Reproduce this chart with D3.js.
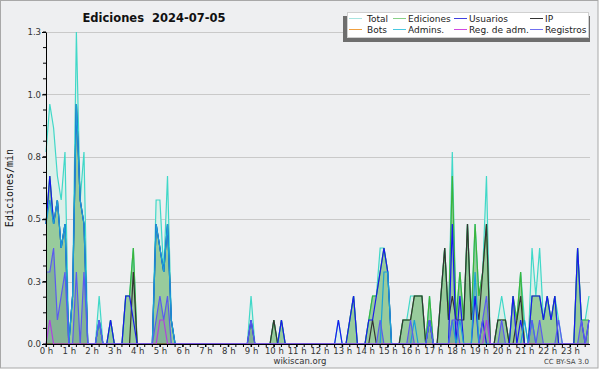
<!DOCTYPE html>
<html>
<head>
<meta charset="utf-8">
<script src="https://cdn.jsdelivr.net/npm/d3@7/dist/d3.min.js"></script>
<style>
  body { margin: 0; background: #fff; }
  svg { display: block; font-family: "DejaVu Sans", sans-serif; }
</style>
</head>
<body>
<div id="chart"></div>
<script>
"use strict"

// 144 points, 10 minutes each (edits per minute)
const total = [
    0.8, 1.0, 0.9, 0.7, 0.6, 0.8,  0, 0.2, 1.3, 0.6, 0.8, 0,  0, 0, 0.2, 0, 0, 0.1,  0, 0, 0, 0.2, 0.2, 0.4,
    0, 0, 0, 0, 0, 0.6,  0.6, 0.3, 0.7, 0.1, 0, 0,  0, 0, 0, 0, 0, 0,  0, 0, 0, 0, 0, 0,
    0, 0, 0, 0, 0, 0,  0.2, 0, 0, 0, 0, 0,  0.1, 0, 0.1, 0, 0, 0,  0, 0, 0, 0, 0, 0,
    0, 0, 0, 0, 0, 0.1,  0, 0, 0.1, 0.2, 0, 0,  0, 0.1, 0.2, 0.2, 0.4, 0.4,  0.3, 0, 0, 0, 0.1, 0.1,
    0.2, 0.2, 0.2, 0.2, 0, 0.2,  0, 0, 0.2, 0.4, 0.1, 0.8,  0.1, 0.3, 0.1, 0.5, 0.1, 0.5,  0.2, 0.3, 0.7, 0, 0, 0.1,
    0.2, 0.1, 0, 0.2, 0.1, 0.3,  0.1, 0, 0.4, 0.2, 0.4, 0.1,  0.2, 0.1, 0.2, 0.1, 0, 0,  0, 0, 0.4, 0.1, 0.1, 0.2
];
const ediciones = [
    0.5, 0.7, 0.5, 0.6, 0.4, 0.5,  0, 0.2, 1.0, 0.6, 0.5, 0,  0, 0, 0.1, 0, 0, 0.1,  0, 0, 0, 0.2, 0.2, 0.4,
    0, 0, 0, 0, 0, 0.5,  0.4, 0.3, 0.5, 0.1, 0, 0,  0, 0, 0, 0, 0, 0,  0, 0, 0, 0, 0, 0,
    0, 0, 0, 0, 0, 0,  0.1, 0, 0, 0, 0, 0,  0.1, 0, 0.1, 0, 0, 0,  0, 0, 0, 0, 0, 0,
    0, 0, 0, 0, 0, 0,  0, 0, 0.1, 0.2, 0, 0,  0, 0.1, 0.2, 0.2, 0.3, 0.4,  0.3, 0, 0, 0, 0.1, 0.1,
    0.1, 0.2, 0.2, 0.2, 0, 0.2,  0, 0, 0.2, 0.4, 0.1, 0.7,  0.1, 0.3, 0.1, 0.5, 0.1, 0.5,  0.2, 0.3, 0.5, 0, 0, 0.1,
    0.1, 0.1, 0, 0.2, 0.1, 0.3,  0, 0, 0.2, 0.2, 0.2, 0.1,  0.2, 0.1, 0.2, 0, 0, 0,  0, 0, 0.4, 0.1, 0.1, 0.1
];
const usuarios = [
    0.5, 0.7, 0.5, 0.6, 0.4, 0.5,  0, 0.2, 1.0, 0.6, 0.5, 0,  0, 0, 0.1, 0, 0, 0.1,  0, 0, 0, 0.2, 0.2, 0.1,
    0, 0, 0, 0, 0, 0.5,  0.4, 0.3, 0.5, 0.1, 0, 0,  0, 0, 0, 0, 0, 0,  0, 0, 0, 0, 0, 0,
    0, 0, 0, 0, 0, 0,  0.1, 0, 0, 0, 0, 0,  0, 0, 0.1, 0, 0, 0,  0, 0, 0, 0, 0, 0,
    0, 0, 0, 0, 0, 0.1,  0, 0, 0.1, 0.2, 0, 0,  0, 0.1, 0.1, 0.2, 0.3, 0.4,  0.3, 0, 0, 0, 0, 0,
    0, 0, 0, 0, 0, 0.1,  0, 0, 0, 0, 0, 0.5,  0, 0.2, 0, 0, 0, 0.2,  0, 0.1, 0, 0, 0, 0,
    0, 0, 0, 0.2, 0, 0.1,  0, 0, 0.2, 0.2, 0.2, 0.1,  0.2, 0.1, 0.2, 0, 0, 0,  0, 0, 0.4, 0.1, 0, 0.1
];
const ip = [
    0, 0, 0, 0, 0, 0,  0, 0, 0, 0, 0, 0,  0, 0, 0, 0, 0, 0,  0, 0, 0, 0, 0, 0.3,
    0, 0, 0, 0, 0, 0,  0, 0, 0, 0, 0, 0,  0, 0, 0, 0, 0, 0,  0, 0, 0, 0, 0, 0,
    0, 0, 0, 0, 0, 0,  0, 0, 0, 0, 0, 0,  0.1, 0, 0, 0, 0, 0,  0, 0, 0, 0, 0, 0,
    0, 0, 0, 0, 0, 0,  0, 0, 0, 0, 0, 0,  0, 0, 0.1, 0, 0, 0,  0, 0, 0, 0, 0.1, 0.1,
    0.1, 0.2, 0.2, 0.2, 0, 0.1,  0, 0, 0.2, 0.4, 0.1, 0.2,  0.1, 0.1, 0.1, 0.5, 0.1, 0.2,  0.1, 0.3, 0.5, 0, 0, 0.1,
    0.1, 0.1, 0, 0, 0.1, 0.2,  0, 0, 0, 0, 0, 0,  0, 0, 0, 0, 0, 0,  0, 0, 0, 0, 0, 0
];
const admins = [
    0.5, 0.6, 0.5, 0.6, 0.4, 0.5,  0, 0.2, 1.0, 0.6, 0.5, 0,  0, 0, 0.1, 0, 0, 0,  0, 0, 0, 0, 0, 0,
    0, 0, 0, 0, 0, 0.5,  0.4, 0.3, 0.5, 0.1, 0, 0,  0, 0, 0, 0, 0, 0,  0, 0, 0, 0, 0, 0,
    0, 0, 0, 0, 0, 0,  0, 0, 0, 0, 0, 0,  0, 0, 0, 0, 0, 0,  0, 0, 0, 0, 0, 0,
    0, 0, 0, 0, 0, 0,  0, 0, 0, 0, 0, 0,  0, 0, 0, 0, 0, 0.3,  0.3, 0, 0, 0, 0, 0,
    0, 0.1, 0, 0, 0, 0.1,  0, 0, 0, 0, 0, 0.1,  0, 0.1, 0, 0, 0, 0.3,  0, 0, 0, 0, 0, 0,
    0, 0, 0, 0, 0, 0,  0.1, 0, 0.1, 0, 0, 0,  0, 0, 0, 0, 0, 0,  0, 0, 0, 0, 0, 0
];
const registros = [
    0.3, 0.3, 0.4, 0.1, 0.2, 0.3,  0, 0, 0.3, 0, 0.3, 0,  0, 0, 0.1, 0, 0, 0,  0, 0, 0, 0, 0, 0,
    0, 0, 0, 0, 0, 0.1,  0.2, 0.1, 0.2, 0, 0, 0,  0, 0, 0, 0, 0, 0,  0, 0, 0, 0, 0, 0,
    0, 0, 0, 0, 0, 0,  0.1, 0, 0, 0, 0, 0,  0, 0, 0, 0, 0, 0,  0, 0, 0, 0, 0, 0,
    0, 0, 0, 0, 0, 0,  0, 0, 0, 0, 0, 0,  0, 0, 0, 0, 0.1, 0,  0, 0, 0, 0, 0, 0,
    0.1, 0, 0, 0, 0, 0.1,  0, 0, 0, 0, 0, 0.1,  0.1, 0, 0, 0, 0, 0,  0, 0.1, 0.2, 0, 0, 0,
    0.1, 0, 0, 0, 0, 0,  0, 0, 0.1, 0, 0.1, 0,  0, 0, 0, 0.1, 0, 0,  0, 0, 0, 0.1, 0, 0.1
];
const regAdm = [
    0, 0.1, 0, 0, 0, 0,  0, 0, 0, 0, 0, 0,  0, 0, 0, 0, 0, 0,  0, 0, 0, 0, 0, 0,
    0, 0, 0, 0, 0, 0,  0.1, 0.1, 0, 0, 0, 0,  0, 0, 0, 0, 0, 0,  0, 0, 0, 0, 0, 0,
    0, 0, 0, 0, 0, 0,  0, 0, 0, 0, 0, 0,  0, 0, 0, 0, 0, 0,  0, 0, 0, 0, 0, 0,
    0, 0, 0, 0, 0, 0,  0, 0, 0, 0, 0, 0,  0, 0, 0, 0, 0, 0,  0, 0, 0, 0, 0, 0,
    0, 0, 0, 0, 0, 0,  0, 0, 0, 0, 0, 0,  0, 0, 0, 0, 0, 0,  0, 0, 0.1, 0, 0, 0,
    0, 0, 0, 0, 0, 0,  0, 0, 0, 0, 0, 0,  0, 0, 0, 0, 0, 0,  0, 0, 0, 0, 0, 0
];
const bots = [
    0, 0, 0, 0, 0, 0,  0, 0, 0, 0, 0, 0,  0, 0, 0, 0, 0, 0,  0, 0, 0, 0, 0, 0,
    0, 0, 0, 0, 0, 0,  0, 0, 0, 0, 0, 0,  0, 0, 0, 0, 0, 0,  0, 0, 0, 0, 0, 0,
    0, 0, 0, 0, 0, 0,  0, 0, 0, 0, 0, 0,  0, 0, 0, 0, 0, 0,  0, 0, 0, 0, 0, 0,
    0, 0, 0, 0, 0, 0,  0, 0, 0, 0, 0, 0,  0, 0, 0, 0, 0, 0,  0, 0, 0, 0, 0, 0,
    0, 0, 0, 0, 0, 0,  0, 0, 0, 0, 0, 0,  0, 0, 0, 0, 0, 0,  0, 0, 0, 0, 0, 0,
    0, 0, 0, 0, 0, 0,  0, 0, 0, 0, 0, 0,  0, 0, 0, 0, 0, 0,  0, 0, 0, 0, 0, 0
];

const hourLabels = ["0 h", "1 h", "2 h", "3 h", "4 h", "5 h", "6 h", "7 h", "8 h", "9 h", "10 h", "11 h",
    "12 h", "13 h", "14 h", "15 h", "16 h", "17 h", "18 h", "19 h", "20 h", "21 h", "22 h", "23 h"];
const yTicks = [0, 0.26, 0.52, 0.78, 1.04, 1.3];
const yLabels = ["0.0", "0.3", "0.5", "0.8", "1.0", "1.3"];
const legendNames = ["Total", "Ediciones", "Usuarios", "IP", "Bots", "Admins.", "Reg. de adm.", "Registros"];


const width = 600,
    height = 370;
const plotLeft = 46,
    plotRight = 589,
    plotTop = 32,
    plotBottom = 344;

const svg = d3.select("#chart").append("svg")
    .attr("width", width)
    .attr("height", height);

svg.append("rect")
    .attr("x", 0.5).attr("y", 0.5)
    .attr("width", 597.5).attr("height", 367.5)
    .attr("fill", "#eeeff1")
    .attr("stroke", "#a8a8a8");

const scaleX = d3.scaleLinear().domain([0, 143]).range([plotLeft, plotRight]);
const scaleY = d3.scaleLinear().domain([0, 1.3]).range([plotBottom, plotTop]);

// grid
svg.append("g").selectAll("line")
    .data(yTicks.slice(1))
    .join("line")
    .attr("x1", plotLeft).attr("x2", plotRight + 1)
    .attr("y1", d => Math.round(scaleY(d)) + 0.5)
    .attr("y2", d => Math.round(scaleY(d)) + 0.5)
    .attr("stroke", "#c9c9c9");

// areas
const area = d3.area()
    .x((d, i) => scaleX(i))
    .y0(plotBottom)
    .y1(d => scaleY(d));
const line = d3.line()
    .x((d, i) => scaleX(i))
    .y(d => scaleY(d));

svg.append("path").attr("d", area(total)).attr("fill", "#dcefe9");
svg.append("path").attr("d", area(ediciones)).attr("fill", "#98cb9c");
svg.append("path").attr("d", area(registros)).attr("fill", "rgba(40,70,120,0.18)");

const series = [
    {values: bots, color: "#f0a030"},
    {values: total, color: "#40d8c8"},
    {values: ediciones, color: "#3cb43c"},
    {values: ip, color: "#333333"},
    {values: usuarios, color: "#1818f0"},
    {values: admins, color: "#1aa0d8"},
    {values: registros, color: "#5a5af0"},
    {values: regAdm, color: "#b040e0"}
];

series.forEach(s => {
    svg.append("path")
        .attr("d", line(s.values))
        .attr("fill", "none")
        .attr("stroke", s.color)
        .attr("stroke-width", 1.2);
});

// axes
const yAxis = d3.axisLeft(scaleY)
    .tickValues(yTicks)
    .tickFormat((d, i) => yLabels[i])
    .tickSize(4)
    .tickSizeOuter(0);
const gy = svg.append("g")
    .attr("transform", "translate(" + plotLeft + ",0)")
    .call(yAxis);
gy.selectAll("text").attr("font-size", 8.5).attr("fill", "#333").attr("x", -5).attr("font-family", "DejaVu Sans");

svg.append("g")
    .selectAll("line")
    .data(d3.range(0, 21).map(i => i * 0.065))
    .join("line")
    .attr("x1", plotLeft - 3).attr("x2", plotLeft)
    .attr("y1", d => scaleY(d)).attr("y2", d => scaleY(d))
    .attr("stroke", "#000");

const xAxis = d3.axisBottom(scaleX)
    .tickValues(d3.range(0, 144, 6))
    .tickFormat((d, i) => hourLabels[i])
    .tickSize(3)
    .tickSizeOuter(0);
const gx = svg.append("g")
    .attr("transform", "translate(0," + plotBottom + ")")
    .call(xAxis);
gx.select(".domain").attr("d", "M" + plotLeft + ",0.5H" + (plotRight + 1));
gx.selectAll("text").attr("font-size", 8.5).attr("fill", "#333").attr("y", 4).attr("font-family", "DejaVu Sans");

svg.append("g")
    .selectAll("line")
    .data(d3.range(0, 144, 2))
    .join("line")
    .attr("x1", d => scaleX(d)).attr("x2", d => scaleX(d))
    .attr("y1", plotBottom).attr("y2", plotBottom + 3)
    .attr("stroke", "#000");

// title and labels
svg.append("text")
    .attr("x", 154).attr("y", 22)
    .attr("text-anchor", "middle")
    .attr("font-weight", "bold")
    .attr("font-size", 11.5)
    .attr("fill", "#111")
    .style("white-space", "pre")
    .text("Ediciones  2024-07-05");

svg.append("text")
    .attr("transform", "translate(13,188) rotate(-90)")
    .attr("text-anchor", "middle")
    .attr("font-family", "DejaVu Sans Mono")
    .attr("font-size", 10)
    .attr("fill", "#111")
    .text("Ediciones/min");

svg.append("text")
    .attr("x", 300).attr("y", 364)
    .attr("text-anchor", "middle")
    .attr("font-size", 8.5)
    .attr("fill", "#333")
    .text("wikiscan.org");

svg.append("text")
    .attr("x", 589).attr("y", 364)
    .attr("text-anchor", "end")
    .attr("font-size", 7)
    .attr("fill", "#444")
    .text("CC BY-SA 3.0");

// legend
const legendColors = ["#a8e4e0", "#88d088", "#4040e0", "#333333", "#f0a040", "#48c8e0", "#d048e0", "#7070f0"];
const legendCols = [348, 392, 453, 529];
const legendRows = [18.5, 29.5];

svg.append("rect")
    .attr("x", 343).attr("y", 16)
    .attr("width", 247).attr("height", 26)
    .attr("fill", "#6e6e6e");
svg.append("rect")
    .attr("x", 347.5).attr("y", 12.5)
    .attr("width", 241).attr("height", 25)
    .attr("fill", "#fff")
    .attr("stroke", "#d0d0d0");

const legend = svg.append("g").selectAll("g")
    .data(legendNames)
    .join("g")
    .attr("transform", (d, i) => "translate(" + legendCols[i % 4] + "," + legendRows[Math.floor(i / 4)] + ")");
legend.append("line")
    .attr("x1", 1).attr("x2", 14)
    .attr("y1", 0).attr("y2", 0)
    .attr("stroke", (d, i) => legendColors[i]);
legend.append("text")
    .attr("x", (d, i) => [19, 16, 16, 16][i % 4])
    .attr("y", 3.5)
    .attr("font-size", 9)
    .attr("fill", "#222")
    .text(d => d);
</script>
</body>
</html>
